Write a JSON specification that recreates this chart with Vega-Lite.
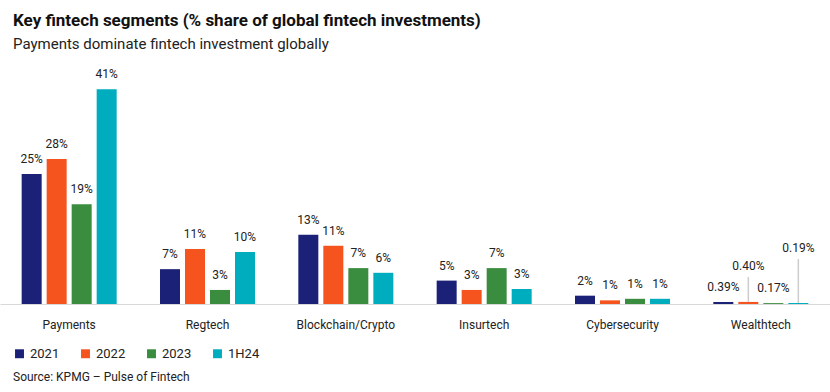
{
  "$schema": "https://vega.github.io/schema/vega-lite/v6.json",
  "width": 830,
  "height": 234,
  "autosize": {"type": "none"},
  "padding": {"top": 70, "left": 0, "right": 0, "bottom": 88},
  "background": "white",
  "title": {
    "text": "Key fintech segments (% share of global fintech investments)",
    "subtitle": "Payments dominate fintech investment globally",
    "anchor": "start",
    "frame": "group",
    "dx": 13,
    "offset": 15,
    "font": "Roboto",
    "fontSize": 17,
    "fontWeight": "bold",
    "color": "#111111",
    "subtitleFont": "Roboto",
    "subtitleFontSize": 15,
    "subtitleColor": "#222222",
    "subtitlePadding": 7
  },
  "config": {"view": {"stroke": null}},
  "data": {
    "values": [
      {"segment": "Payments", "year": "2021", "value": 25.0, "label": "25%"},
      {"segment": "Payments", "year": "2022", "value": 27.9, "label": "28%"},
      {"segment": "Payments", "year": "2023", "value": 19.2, "label": "19%"},
      {"segment": "Payments", "year": "1H24", "value": 41.3, "label": "41%"},
      {"segment": "Regtech", "year": "2021", "value": 6.7, "label": "7%"},
      {"segment": "Regtech", "year": "2022", "value": 10.6, "label": "11%"},
      {"segment": "Regtech", "year": "2023", "value": 2.7, "label": "3%"},
      {"segment": "Regtech", "year": "1H24", "value": 10.0, "label": "10%"},
      {"segment": "Blockchain/Crypto", "year": "2021", "value": 13.3, "label": "13%"},
      {"segment": "Blockchain/Crypto", "year": "2022", "value": 11.2, "label": "11%"},
      {"segment": "Blockchain/Crypto", "year": "2023", "value": 6.9, "label": "7%"},
      {"segment": "Blockchain/Crypto", "year": "1H24", "value": 6.0, "label": "6%"},
      {"segment": "Insurtech", "year": "2021", "value": 4.5, "label": "5%"},
      {"segment": "Insurtech", "year": "2022", "value": 2.7, "label": "3%"},
      {"segment": "Insurtech", "year": "2023", "value": 6.9, "label": "7%"},
      {"segment": "Insurtech", "year": "1H24", "value": 2.9, "label": "3%"},
      {"segment": "Cybersecurity", "year": "2021", "value": 1.6, "label": "2%"},
      {"segment": "Cybersecurity", "year": "2022", "value": 0.7, "label": "1%"},
      {"segment": "Cybersecurity", "year": "2023", "value": 1.0, "label": "1%"},
      {"segment": "Cybersecurity", "year": "1H24", "value": 1.0, "label": "1%"},
      {"segment": "Wealthtech", "year": "2021", "value": 0.39, "label": "0.39%"},
      {"segment": "Wealthtech", "year": "2022", "value": 0.40, "label": "0.40%"},
      {"segment": "Wealthtech", "year": "2023", "value": 0.17, "label": "0.17%"},
      {"segment": "Wealthtech", "year": "1H24", "value": 0.19, "label": "0.19%"}
    ]
  },
  "encoding": {
    "x": {
      "field": "segment",
      "type": "nominal",
      "sort": ["Payments", "Regtech", "Blockchain/Crypto", "Insurtech", "Cybersecurity", "Wealthtech"],
      "scale": {"paddingInner": 0.277, "paddingOuter": 0.1385},
      "axis": {
        "title": null,
        "labelAngle": 0,
        "ticks": false,
        "domainColor": "#d9d9d9",
        "domainWidth": 1,
        "labelPadding": 15,
        "labelFont": "Roboto",
        "labelFontSize": 12,
        "labelColor": "#222222"
      }
    },
    "xOffset": {
      "field": "year",
      "type": "nominal",
      "sort": ["2021", "2022", "2023", "1H24"],
      "scale": {"paddingInner": 0.2, "paddingOuter": 0.1}
    }
  },
  "layer": [
    {
      "mark": {"type": "bar"},
      "encoding": {
        "y": {"field": "value", "type": "quantitative", "scale": {"domain": [0, 45]}, "axis": null},
        "color": {
          "field": "year",
          "type": "nominal",
          "sort": ["2021", "2022", "2023", "1H24"],
          "scale": {"domain": ["2021", "2022", "2023", "1H24"], "range": ["#1c2178", "#f5541f", "#3a8c3f", "#00adbf"]},
          "legend": {
            "orient": "none",
            "legendX": 13,
            "legendY": 277,
            "direction": "horizontal",
            "title": "Source: KPMG – Pulse of Fintech",
            "titleOrient": "bottom",
            "titleAnchor": "start",
            "titleFont": "Roboto",
            "titleFontWeight": "normal",
            "titleFontSize": 12,
            "titleColor": "#222222",
            "titlePadding": 11,
            "symbolType": "square",
            "symbolSize": 80,
            "symbolStrokeWidth": 0,
            "symbolOpacity": 1,
            "labelFont": "Roboto",
            "labelFontSize": 13,
            "labelColor": "#222222",
            "labelOffset": 4,
            "columnPadding": 19
          }
        }
      }
    },
    {
      "transform": [{"filter": "datum.segment != 'Wealthtech' || datum.year == '2021' || datum.year == '2023'"}],
      "mark": {"type": "text", "baseline": "alphabetic", "dy": -11, "font": "Roboto", "fontSize": 12, "color": "#222222"},
      "encoding": {
        "y": {"field": "value", "type": "quantitative"},
        "text": {"field": "label"}
      }
    },
    {
      "transform": [{"filter": "datum.segment == 'Wealthtech' && datum.year == '2022'"}],
      "mark": {"type": "rule", "color": "#cccccc", "strokeWidth": 1.5},
      "encoding": {
        "y": {"field": "value", "type": "quantitative"},
        "y2": {"datum": 5.2}
      }
    },
    {
      "transform": [{"filter": "datum.segment == 'Wealthtech' && datum.year == '1H24'"}],
      "mark": {"type": "rule", "color": "#cccccc", "strokeWidth": 1.5},
      "encoding": {
        "y": {"field": "value", "type": "quantitative"},
        "y2": {"datum": 8.65}
      }
    },
    {
      "transform": [{"filter": "datum.segment == 'Wealthtech' && datum.year == '2022'"}],
      "mark": {"type": "text", "baseline": "alphabetic", "font": "Roboto", "fontSize": 12, "color": "#222222"},
      "encoding": {
        "y": {"datum": 6.54, "type": "quantitative"},
        "text": {"field": "label"}
      }
    },
    {
      "transform": [{"filter": "datum.segment == 'Wealthtech' && datum.year == '1H24'"}],
      "mark": {"type": "text", "baseline": "alphabetic", "font": "Roboto", "fontSize": 12, "color": "#222222"},
      "encoding": {
        "y": {"datum": 10.0, "type": "quantitative"},
        "text": {"field": "label"}
      }
    }
  ]
}
